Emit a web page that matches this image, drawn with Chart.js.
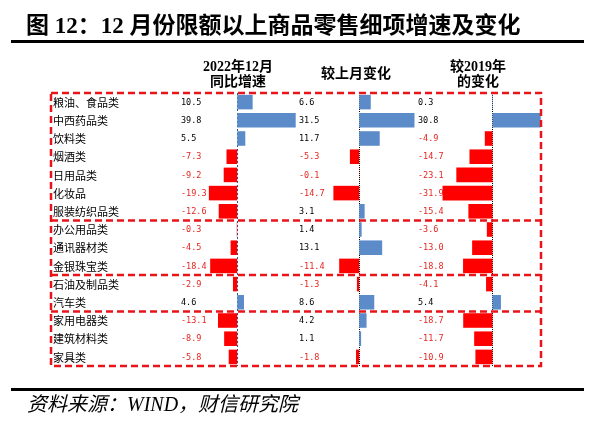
<!DOCTYPE html>
<html>
<head>
<meta charset="utf-8">
<script src="https://cdn.jsdelivr.net/npm/chart.js@4.4.1/dist/chart.umd.min.js"></script>
<style>
    body { margin: 0; background: #fff; }
    #wrap { position: relative; width: 600px; height: 425px; overflow: hidden; background: #fff; }
    #c { position: absolute; left: 0; top: 0; }
    .txt { position: absolute; white-space: nowrap; color: #000; }
    .rule { position: absolute; left: 11px; width: 573px; height: 3px; background: #000; }
    .hdr { font: bold 14px "Liberation Serif", "Noto Sans CJK SC", serif; line-height: 15px; text-align: center; width: 120px; }
</style>
</head>
<body>
<div id="wrap">
    <canvas id="c" width="600" height="425"></canvas>
    <div class="txt" style="left:26px; top:12px; font: bold 23px 'Liberation Serif', 'Noto Sans CJK SC', serif; line-height:28px;">图 12：12 月份限额以上商品零售细项增速及变化</div>
    <div class="rule" style="top:40px"></div>
    <div class="txt hdr" style="left:178px; top:59px;">2022年12月<br>同比增速</div>
    <div class="txt hdr" style="left:296px; top:66px;">较上月变化</div>
    <div class="txt hdr" style="left:418px; top:59px;">较2019年<br>的变化</div>
    <div class="rule" style="top:388px"></div>
    <div class="txt" style="left:27px; top:392px; font: italic 20px 'Liberation Serif', 'Noto Sans CJK SC', serif; line-height:24px;">资料来源：WIND，财信研究院</div>
</div>
<script>
document.addEventListener("DOMContentLoaded", function () {

    // 商品类别（自上而下）
    const categories = ['粮油、食品类', '中西药品类', '饮料类', '烟酒类', '日用品类', '化妆品', '服装纺织品类',
        '办公用品类', '通讯器材类', '金银珠宝类', '石油及制品类', '汽车类', '家用电器类', '建筑材料类', '家具类'];

    // 2022年12月同比增速
    const yoy = [10.5, 39.8, 5.5, -7.3, -9.2, -19.3, -12.6, -0.3, -4.5, -18.4, -2.9, 4.6, -13.1, -8.9, -5.8];
    // 较上月变化
    const mom = [6.6, 31.5, 11.7, -5.3, -0.1, -14.7, 3.1, 1.4, 13.1, -11.4, -1.3, 8.6, 4.2, 1.1, -1.8];
    // 较2019年的变化
    const vs2019 = [0.3, 30.8, -4.9, -14.7, -23.1, -31.9, -15.4, -3.6, -13.0, -18.8, -4.1, 5.4, -18.7, -11.7, -10.9];

    // 分组分隔线（在这些行之后）
    const groupEnds = [6, 9, 11];

    const BLUE = '#5b8bc9';
    const RED = '#ff0000';
    const RED_TXT = '#e5261f';
    const DASH_RED = '#e8141a';

    const barColor = (c) => (c.raw < 0 ? RED : BLUE);

    // 表格：标签、数值、零线、红色虚线框
    const tablePlugin = {
        id: 'table',
        beforeDatasetsDraw: (chart) => {
            const ctx = chart.ctx;
            const area = chart.chartArea;
            const zeroStyles = [
                { id: 'x1', color: '#2f4f9a', dash: [2, 2] },
                { id: 'x2', color: '#000000', dash: [1, 1] },
                { id: 'x3', color: '#000000', dash: [1, 1] }
            ];
            ctx.save();
            ctx.lineWidth = 1;
            zeroStyles.forEach(z => {
                const x = Math.round(chart.scales[z.id].getPixelForValue(0)) + 0.5;
                ctx.strokeStyle = z.color;
                ctx.setLineDash(z.dash);
                ctx.beginPath();
                ctx.moveTo(x, area.top);
                ctx.lineTo(x, area.bottom);
                ctx.stroke();
            });
            ctx.restore();
        },
        afterDatasetsDraw: (chart) => {
            const ctx = chart.ctx;
            const area = chart.chartArea;
            const y = chart.scales.y;
            const cols = [
                { scale: chart.scales.x1, data: yoy },
                { scale: chart.scales.x2, data: mom },
                { scale: chart.scales.x3, data: vs2019 }
            ];
            ctx.save();
            ctx.textBaseline = 'middle';

            // 类别标签
            ctx.font = '11px "Noto Sans CJK SC", sans-serif';
            ctx.fillStyle = '#000';
            ctx.textAlign = 'left';
            categories.forEach((name, i) => {
                ctx.fillText(name, 53, y.getPixelForValue(i) + 0.5);
            });

            // 数值
            ctx.font = '8.5px "DejaVu Sans Mono", monospace';
            cols.forEach(col => {
                col.data.forEach((v, i) => {
                    ctx.fillStyle = v < 0 ? RED_TXT : '#000';
                    ctx.fillText(v.toFixed(1), col.scale.left + 3, y.getPixelForValue(i) + 0.5);
                });
            });

            // 红色虚线框与分组线
            ctx.strokeStyle = DASH_RED;
            ctx.lineWidth = 2.5;
            ctx.setLineDash([7, 4]);
            const left = 51, right = area.right;
            ctx.strokeRect(left, area.top, right - left, area.bottom - area.top);
            groupEnds.forEach(i => {
                const yy = (y.getPixelForValue(i) + y.getPixelForValue(i + 1)) / 2;
                ctx.beginPath();
                ctx.moveTo(left, yy);
                ctx.lineTo(right, yy);
                ctx.stroke();
            });
            ctx.restore();
        }
    };

    const barSet = (data, axis) => ({
        data: data,
        xAxisID: axis,
        backgroundColor: barColor,
        borderWidth: 0,
        grouped: false,
        barPercentage: 0.8,
        categoryPercentage: 1
    });

    new Chart(document.getElementById('c'), {
        type: 'bar',
        plugins: [tablePlugin],
        data: {
            labels: categories,
            datasets: [
                barSet(yoy, 'x1'),
                barSet(mom, 'x2'),
                barSet(vs2019, 'x3')
            ]
        },
        options: {
            indexAxis: 'y',
            responsive: false,
            animation: false,
            events: [],
            layout: { padding: { left: 178, right: 59, top: 93, bottom: 59 } },
            plugins: {
                legend: { display: false },
                tooltip: { enabled: false }
            },
            scales: {
                y: { display: false, offset: true },
                x1: { type: 'linear', position: 'bottom', stack: 'cols', stackWeight: 118, min: -40.3, max: 40, display: false },
                x2: { type: 'linear', position: 'bottom', stack: 'cols', stackWeight: 119, min: -36, max: 31.8, display: false },
                x3: { type: 'linear', position: 'bottom', stack: 'cols', stackWeight: 126, min: -49.5, max: 31, display: false }
            }
        }
    });
});
</script>
</body>
</html>
